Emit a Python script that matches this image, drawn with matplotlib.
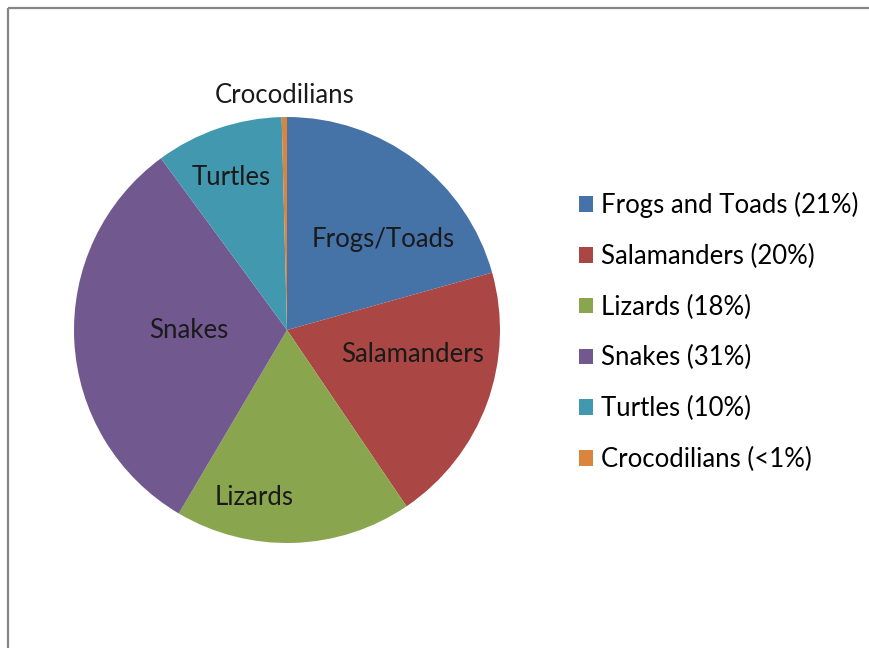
import matplotlib
matplotlib.use("Agg")
import matplotlib.pyplot as plt
import matplotlib.patches as mpatches
from matplotlib.lines import Line2D
import numpy as np

# ---------- data ----------
groups = ["Frogs/Toads", "Salamanders", "Lizards", "Snakes", "Turtles", "Crocodilians"]
legend_names = ["Frogs and Toads (21%)", "Salamanders (20%)", "Lizards (18%)",
                "Snakes (31%)", "Turtles (10%)", "Crocodilians (<1%)"]
shares = [20.7, 19.9, 18.0, 31.5, 9.7, 0.4]
colors = ["#4572A7", "#AA4643", "#89A54E", "#71588F", "#4198AF", "#DB843D"]

# label placement inside the pie: (radius fraction, angle in degrees)
label_polar = [(0.62, 43), (0.60, -11), (0.80, -101), (0.46, 180.5), (0.76, 110), (1.10, 90.7)]

plt.rcParams["font.family"] = ["Lato", "DejaVu Sans"]
FS = 18.5

W, H = 870, 648
fig = plt.figure(figsize=(W / 100, H / 100), dpi=100)

# pie axes: center (287, 330) px, radius 213 px
cx, cy, r = 287, 330, 213
ax = fig.add_axes([(cx - r) / W, (H - cy - r) / H, 2 * r / W, 2 * r / H])
wedges, _ = ax.pie(shares, colors=colors, startangle=90, counterclock=False,
                   radius=1, wedgeprops=dict(linewidth=0))
ax.set_xlim(-1, 1)
ax.set_ylim(-1, 1)
ax.set_aspect("equal")
ax.axis("off")

for name, (rr, ang) in zip(groups, label_polar):
    a = np.deg2rad(ang)
    ax.text(rr * np.cos(a), rr * np.sin(a), name, ha="center", va="center",
            fontsize=FS, color="#1a1a1a", clip_on=False)

handles = [mpatches.Patch(facecolor=c, edgecolor="none") for c in colors]
fig.legend(handles, legend_names, loc="upper left",
           bbox_to_anchor=(579 / W, 1 - 192 / H), frameon=False,
           fontsize=FS, labelspacing=1.0, handlelength=0.55, handleheight=0.55,
           handletextpad=0.3, borderaxespad=0, borderpad=0)

# chart border: only the left and top edges fall inside the image
fig.add_artist(Line2D([8 / W, 8 / W], [0, 1 - 8 / H], transform=fig.transFigure,
                      color="#868686", linewidth=1.6, solid_capstyle="butt"))
fig.add_artist(Line2D([8 / W, 1], [1 - 8 / H, 1 - 8 / H], transform=fig.transFigure,
                      color="#868686", linewidth=1.6, solid_capstyle="butt"))

fig.savefig("out.png", dpi=100, facecolor="white")
